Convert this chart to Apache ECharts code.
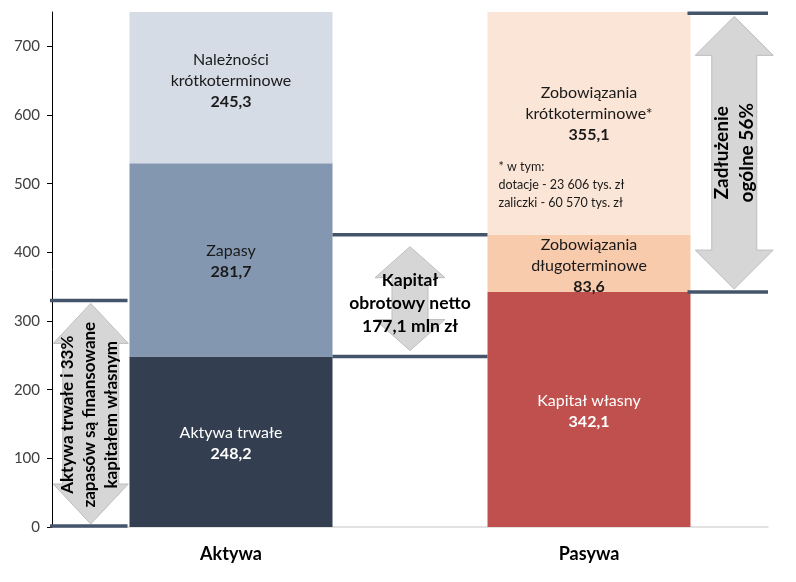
<!DOCTYPE html>
<html>
<head>
<meta charset="utf-8">
<script src="https://cdn.jsdelivr.net/npm/echarts@6/dist/echarts.min.js"></script>
<style>
html,body{margin:0;padding:0;background:#fff;}
#c{width:796px;height:582px;}
</style>
</head>
<body>
<div id="c"></div>
<script>
// ---- data ----
const categories = ['Aktywa', 'Pasywa'];
const aktywaTrwale = [248.2, '-'];
const zapasy = [281.7, '-'];
const naleznosci = [245.3, '-'];
const kapitalWlasny = ['-', 342.1];
const zobDlugo = ['-', 83.6];
const zobKrotko = ['-', 355.1];
const seriesNames = ['Aktywa trwałe', 'Zapasy', 'Należności\nkrótkoterminowe', 'Kapitał własny', 'Zobowiązania\ndługoterminowe', 'Zobowiązania\nkrótkoterminowe*'];
const yTicks = [0, 100, 200, 300, 400, 500, 600, 700];
const footnoteLines = ['* w tym:', 'dotacje - 23 606 tys. zł', 'zaliczki - 60 570 tys. zł'];
// annotation levels
const levelLeftEquity = 330;
const levelEquity = 342.1;
const levelWorkingTop = 425.7;
const levelWorkingBottom = 248.2;
const levelTop = 748;
const levelFootnote = 537;
const textLeftArrow = ['Aktywa trwałe i 33%', 'zapasów są finansowane', 'kapitałem własnym'];
const textMidArrow = ['Kapitał', 'obrotowy netto', '177,1 mln zł'];
const textRightArrow = ['Zadłużenie', 'ogólne 56%'];

const FONT = 'Lato, "Open Sans", sans-serif';
const BAR_W = 203;
const colors = ['#333f50', '#8497b0', '#d6dce5', '#c0504d', '#f8cbad', '#fbe5d6'];
const labelColors = ['#ffffff', '#1a1a1a', '#1a1a1a', '#ffffff', '#1a1a1a', '#1a1a1a'];
const labelOffsets = [[0, 2], [0, 1], [0, -7], [0, 2], [0, 2], [0, -9]];
const seriesData = [aktywaTrwale, zapasy, naleznosci, kapitalWlasny, zobDlugo, zobKrotko];

function fmt(v) { return String(v).replace('.', ','); }

const chart = echarts.init(document.getElementById('c'));
const option = {
  animation: false,
  grid: { left: 52, right: 28, top: 12, bottom: 55, containLabel: false },
  xAxis: {
    type: 'category', data: categories,
    axisLine: { lineStyle: { color: '#d9d9d9', width: 1.5 } },
    axisTick: { show: false },
    axisLabel: { color: '#000', fontFamily: FONT, fontWeight: 'bold', fontSize: 18, margin: 18 }
  },
  yAxis: {
    type: 'value', min: 0, max: 750, interval: 100,
    axisLine: { show: true, lineStyle: { color: '#000', width: 1 } },
    axisTick: { show: true, length: 5, lineStyle: { color: '#000' }, customValues: yTicks },
    axisLabel: { color: '#404040', fontFamily: FONT, fontSize: 15, margin: 12, customValues: yTicks },
    splitLine: { show: false }
  },
  series: seriesData.map((d, i) => ({
    name: seriesNames[i], type: 'bar', stack: 'total', data: d, barWidth: BAR_W, clip: true,
    itemStyle: { color: colors[i] },
    label: {
      show: true, position: 'inside', offset: labelOffsets[i],
      formatter: (p) => '{n|' + seriesNames[i].split('\n').join('}\n{n|') + '}\n{v|' + fmt(p.value) + '}',
      rich: {
        n: { color: labelColors[i], fontFamily: FONT, fontSize: 16, lineHeight: 21 },
        v: { color: labelColors[i], fontFamily: FONT, fontSize: 16, fontWeight: 'bold', lineHeight: 21 }
      }
    }
  }))
};
chart.setOption(option);

function px(cat, v) { return chart.convertToPixel({ gridIndex: 0 }, [cat, v]); }
const aktC = px('Aktywa', 0)[0];
const pasC = px('Pasywa', 0)[0];
const y0 = px('Aktywa', 0)[1];
function yv(v) { return px('Aktywa', v)[1]; }
const gridL = 52, gridR = 796 - 28;
const aktL = aktC - BAR_W / 2, aktR = aktC + BAR_W / 2;
const pasL = pasC - BAR_W / 2, pasR = pasC + BAR_W / 2;

const LINE = '#44546a';
function hline(x1, x2, y) {
  return { type: 'line', shape: { x1: x1, y1: y, x2: x2, y2: y }, style: { stroke: LINE, lineWidth: 3.5 }, z: 10 };
}
function arrow(cx, top, bottom, headW, shaftW, headH) {
  const hw = headW / 2, sw = shaftW / 2;
  return {
    type: 'polygon', z: 9,
    shape: { points: [
      [cx, top], [cx + hw, top + headH], [cx + sw, top + headH], [cx + sw, bottom - headH],
      [cx + hw, bottom - headH], [cx, bottom], [cx - hw, bottom - headH], [cx - sw, bottom - headH],
      [cx - sw, top + headH], [cx - hw, top + headH]
    ] },
    style: { fill: '#d6d6d6', stroke: '#bdbdbd', lineWidth: 1 }
  };
}
function label(x, y, lines, size, lh, rot) {
  return {
    type: 'text', x: x, y: y, rotation: rot || 0, z: 11,
    style: { text: lines.join('\n'), font: 'bold ' + size + 'px ' + FONT, fill: '#000',
      align: 'center', verticalAlign: 'middle', textAlign: 'center', textVerticalAlign: 'middle', lineHeight: lh }
  };
}

const leftCx = (gridL + aktL) / 2;
const midCx = (aktR + pasL) / 2;
const rightCx = (pasR + gridR) / 2 + 5;

const graphics = [
  arrow(leftCx, yv(levelLeftEquity) + 3, y0 - 3, 75, 56, 40),
  arrow(midCx, yv(levelWorkingTop) + 12, yv(levelWorkingBottom) - 6, 70, 36, 31),
  arrow(rightCx, yv(levelTop) + 3, yv(levelEquity) - 3, 78, 45, 39),
  hline(gridL - 2, aktL - 2, yv(levelLeftEquity)),
  hline(gridL - 2, aktL - 2, y0 - 1),
  hline(aktR, pasL, yv(levelWorkingTop)),
  hline(aktR, pasL, yv(levelWorkingBottom)),
  hline(pasR - 3, gridR, yv(levelTop)),
  hline(pasR - 3, gridR, yv(levelEquity)),
  label(leftCx - 1, (yv(levelLeftEquity) + y0) / 2 + 1, textLeftArrow, 17, 22, Math.PI / 2),
  label(midCx, (yv(levelWorkingTop) + yv(levelWorkingBottom)) / 2 + 8, textMidArrow, 17.5, 23, 0),
  label(rightCx, (yv(levelTop) + yv(levelEquity)) / 2, textRightArrow, 19, 25, Math.PI / 2),
  {
    type: 'text', x: pasL + 11, y: yv(levelFootnote), z: 11,
    style: { text: footnoteLines.join('\n'), font: '12.5px ' + FONT, fill: '#1a1a1a',
      align: 'left', verticalAlign: 'top', textAlign: 'left', textVerticalAlign: 'top', lineHeight: 18 }
  }
];
chart.setOption({ graphic: graphics });
</script>
</body>
</html>
